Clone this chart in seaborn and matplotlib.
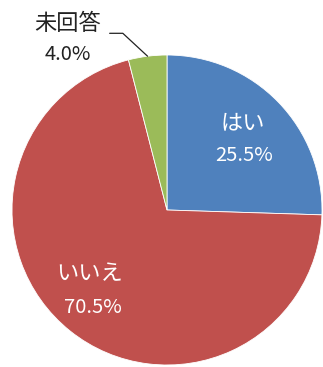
import matplotlib
matplotlib.use("Agg")
import matplotlib.pyplot as plt
import seaborn as sns
import numpy as np

labels = ["はい", "いいえ", "未回答"]
values = [25.5, 70.5, 4.0]
pct_labels = ["25.5%", "70.5%", "4.0%"]

sns.set_theme(style="white")
plt.rcParams["font.family"] = ["Noto Sans CJK JP", "DejaVu Sans"]

colors = ["#4F81BD", "#C0504D", "#9BBB59"]

fig = plt.figure(figsize=(3.23, 3.67), dpi=100)
ax = fig.add_axes([12/323, 2/367, 310/323, 310/367])
wedges, _ = ax.pie(values, colors=colors, startangle=90, counterclock=False,
                   radius=1.0, wedgeprops=dict(edgecolor="white", linewidth=0.6))
ax.set_xlim(-1, 1)
ax.set_ylim(-1, 1)
ax.set_aspect("equal")
ax.axis("off")

fj = 16
fp = 14.5
# はい
ax.text(0.49, 0.56, labels[0], ha="center", va="center", color="white", fontsize=fj)
ax.text(0.50, 0.35, pct_labels[0], ha="center", va="center", color="white", fontsize=fp)
# いいえ
ax.text(-0.50, -0.41, labels[1], ha="center", va="center", color="white", fontsize=fj)
ax.text(-0.48, -0.63, pct_labels[1], ha="center", va="center", color="white", fontsize=fp)
# 未回答 (outside)
ax.text(-0.64, 1.20, labels[2], ha="center", va="center", color="#222222", fontsize=fj)
ax.text(-0.64, 1.00, pct_labels[2], ha="center", va="center", color="#222222", fontsize=fp)
# leader line toward wedge mid-angle
mid = np.deg2rad(90 - 360 * (values[0] + values[1] + values[2] / 2) / 100)
ex, ey = np.cos(mid), np.sin(mid)
ax.plot([-0.37, -0.285, ex], [1.14, 1.14, ey], color="#222222", lw=0.9, clip_on=False)

fig.savefig("out.png", dpi=100, facecolor="white")
